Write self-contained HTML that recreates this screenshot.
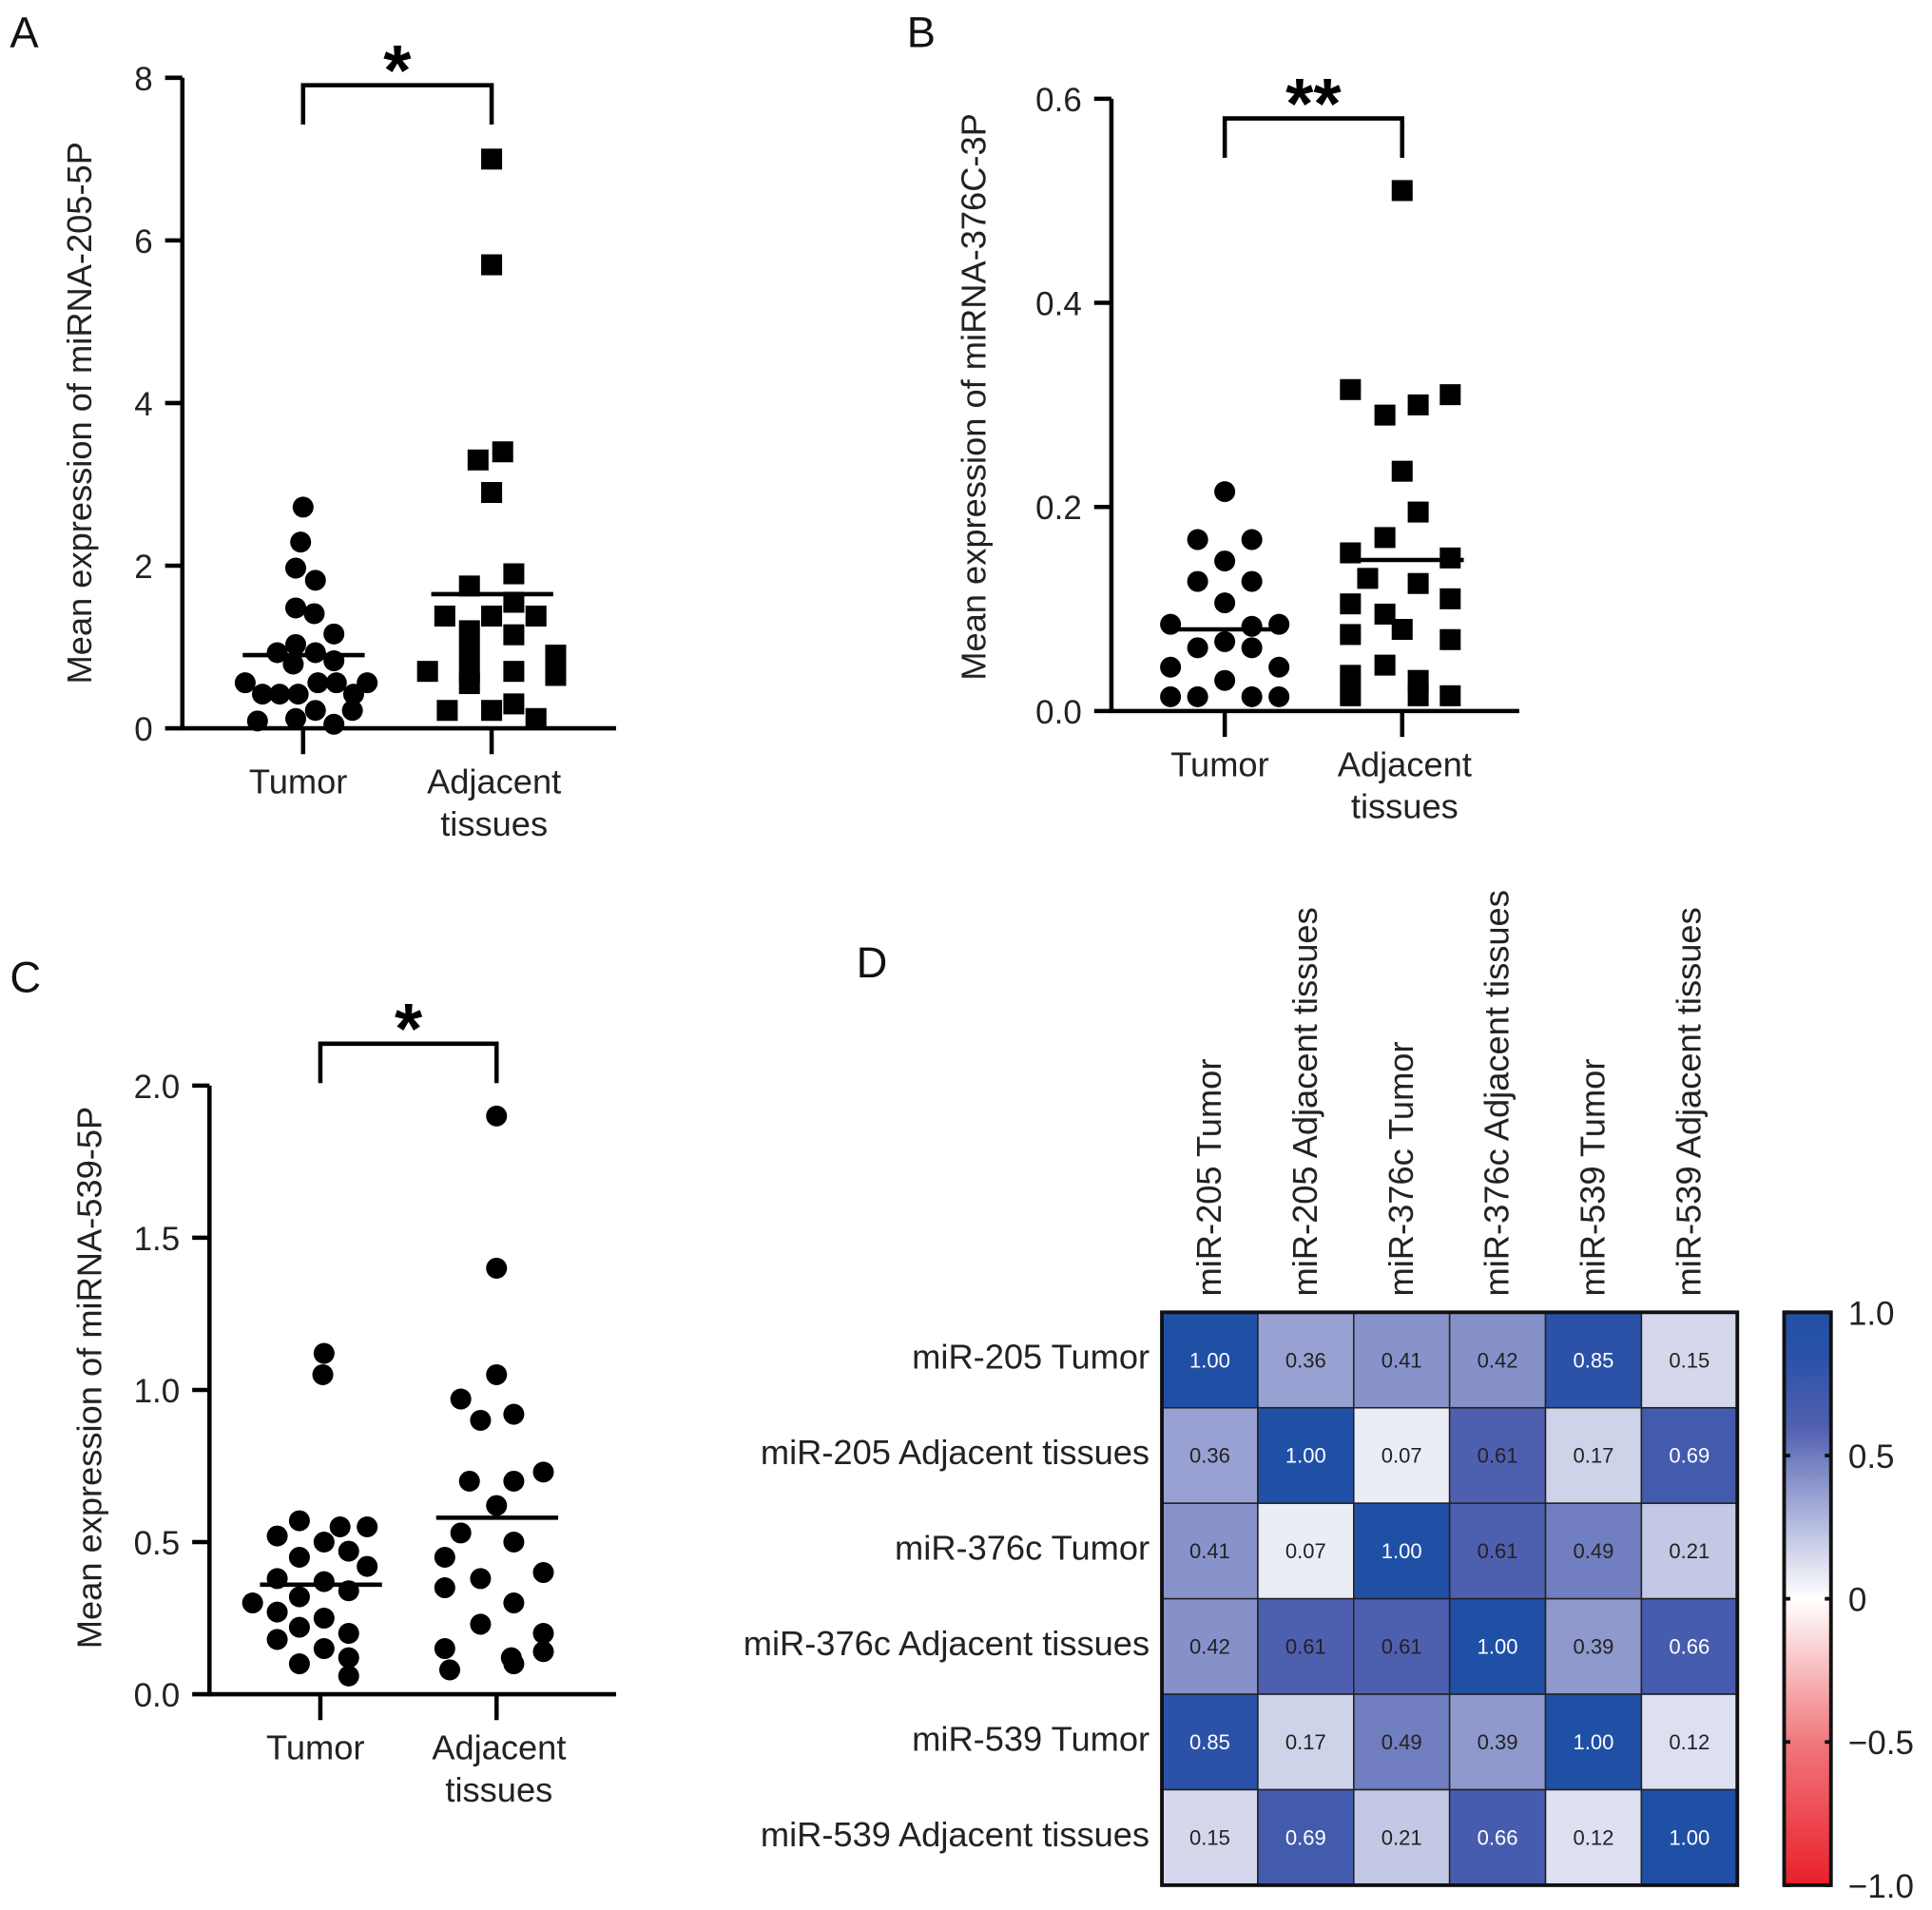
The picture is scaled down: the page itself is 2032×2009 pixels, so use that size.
<!DOCTYPE html>
<html><head><meta charset="utf-8"><style>
html,body{margin:0;padding:0;background:#fff}
svg{display:block;font-family:"Liberation Sans",Arial,sans-serif}
</style></head><body>
<svg id="fig" width="2032" height="2009" viewBox="0 0 1568 1550" xmlns="http://www.w3.org/2000/svg"></svg>
<script>
// ---------- Panel A data ----------
const aTumor=[2.72,2.29,1.97,1.82,1.48,1.41,1.16,0.93,1.03,0.79,0.93,0.83,0.56,0.42,0.42,0.42,0.56,0.56,0.42,0.56,0.09,0.12,0.22,0.05,0.22];
const aTumorJit=[0,-2,-6,10,-6,9,25,-21,-6,-8,10,25,-47,-33,-19,-4,12,27,41,52,-37,-6,10,25,40];
const aAdj=[7.0,5.7,3.4,3.3,2.9,1.9,1.75,1.55,1.38,1.38,1.38,1.2,1.15,0.95,0.7,0.7,0.7,0.9,0.65,0.55,0.3,0.22,0.22,0.12];
const aAdjJit=[0,0,9,-11,0,18,-18,18,-38,0,36,-18,18,-18,-52,-18,18,52,52,-18,18,-36,0,36];
const aMeans=[0.9,1.65];
const aTicks=[0,2,4,6,8];
// ---------- Panel B data ----------
const bTumor=[0.215,0.168,0.168,0.147,0.127,0.127,0.106,0.085,0.085,0.083,0.068,0.062,0.062,0.043,0.043,0.03,0.014,0.014,0.014,0.014];
const bTumorJit=[0,-22,22,0,-22,22,0,-44,44,22,0,-22,22,-44,44,0,-44,-22,22,44];
const bAdj=[0.51,0.315,0.31,0.30,0.29,0.235,0.195,0.17,0.155,0.15,0.13,0.125,0.11,0.105,0.095,0.08,0.075,0.07,0.045,0.035,0.03,0.015,0.015,0.015];
const bAdjJit=[0,-42,39,13,-14,0,13,-14,-42,39,-28,13,39,-42,-14,0,-42,39,-14,-42,13,-42,13,39];
const bMeans=[0.08,0.148];
const bTicks=[0,0.2,0.4,0.6];
// ---------- Panel C data ----------
const cTumor=[1.12,1.05,0.57,0.55,0.55,0.52,0.5,0.47,0.45,0.42,0.38,0.37,0.34,0.32,0.3,0.27,0.25,0.22,0.2,0.18,0.15,0.12,0.1,0.06];
const cTumorJit=[3,2,-17,16,38,-35,3,23,-17,38,-35,3,23,-17,-55,-35,3,-17,23,-35,3,23,-17,23];
const cAdj=[1.9,1.4,1.05,0.97,0.92,0.9,0.73,0.7,0.7,0.62,0.53,0.5,0.45,0.4,0.38,0.35,0.3,0.23,0.2,0.15,0.14,0.12,0.1,0.08];
const cAdjJit=[0,0,0,-29,14,-13,38,-22,14,0,-29,14,-42,38,-13,-42,14,-13,38,-42,38,12,14,-38];
const cMeans=[0.36,0.58];
const cTicks=[0,0.5,1.0,1.5,2.0];
// ---------- Panel D data ----------
const dLabels=["miR-205 Tumor","miR-205 Adjacent tissues","miR-376c Tumor","miR-376c Adjacent tissues","miR-539 Tumor","miR-539 Adjacent tissues"];
const dRow0=[1.00,0.36,0.41,0.42,0.85,0.15];
const dRow1=[0.36,1.00,0.07,0.61,0.17,0.69];
const dRow2=[0.41,0.07,1.00,0.61,0.49,0.21];
const dRow3=[0.42,0.61,0.61,1.00,0.39,0.66];
const dRow4=[0.85,0.17,0.49,0.39,1.00,0.12];
const dRow5=[0.15,0.69,0.21,0.66,0.12,1.00];
const cbTicks=[1.0,0.5,0,-0.5,-1.0];
const cbTickLabels=["1.0","0.5","0","\u22120.5","\u22121.0"];

const svg=document.getElementById('fig');
const NS="http://www.w3.org/2000/svg";
function mk(tag,attrs,parent){const e=document.createElementNS(NS,tag);for(const k in attrs)e.setAttribute(k,attrs[k]);(parent||svg).appendChild(e);return e;}
function txt(s,attrs,parent){const e=mk('text',attrs,parent);e.textContent=s;return e;}

function scatterPanel(cfg){
  const g=mk('g',{});
  
  
  const y=v=>cfg.y0+(v-cfg.vmin)/(cfg.vmax-cfg.vmin)*(cfg.y1-cfg.y0);
  const L=txt(cfg.letter,{x:cfg.lx,y:cfg.ly,'font-size':35,fill:'#111'},g);
  
  
  const ya=mk('line',{x1:cfg.ax,y1:y(cfg.vmax),x2:cfg.ax,y2:cfg.y0+1.5,stroke:'#000','stroke-width':3.5},g);
  
  
  const xa=mk('line',{x1:cfg.ax-1.5,y1:cfg.y0,x2:cfg.axEnd,y2:cfg.y0,stroke:'#000','stroke-width':3.5},g);
  
  
  cfg.ticks.forEach(t=>{
    mk('line',{x1:cfg.ax-14,y1:y(t),x2:cfg.ax,y2:y(t),stroke:'#000','stroke-width':3.5},g);
    const tl=txt(cfg.fmt(t),{x:cfg.ax-24,y:y(t)+10,'font-size':27,'text-anchor':'end',fill:'#222'},g);
    
    
  });
  cfg.cx.forEach(cx=>mk('line',{x1:cx,y1:cfg.y0,x2:cx,y2:cfg.y0+21,stroke:'#000','stroke-width':3.5},g));
  const t1=txt('Tumor',{x:cfg.cx[0]-4,y:cfg.y0+53,'font-size':28,'text-anchor':'middle',fill:'#222'},g);
  
  
  const t2=txt('Adjacent',{x:cfg.cx[1]+2,y:cfg.y0+53,'font-size':28,'text-anchor':'middle',fill:'#222'},g);
  
  
  txt('tissues',{x:cfg.cx[1]+2,y:cfg.y0+87,'font-size':28,'text-anchor':'middle',fill:'#222'},g);
  const yt=txt(cfg.title,{x:0,y:0,'font-size':28,'text-anchor':'middle',fill:'#222',transform:`translate(${cfg.tx},${cfg.ty}) rotate(-90)`},g);
  
  
  const br=mk('path',{d:`M${cfg.cx[0]},${cfg.by+32} V${cfg.by} H${cfg.cx[1]} V${cfg.by+32}`,fill:'none',stroke:'#000','stroke-width':3.5},g);
  
  
  const st=txt(cfg.star,{x:(cfg.cx[0]+cfg.cx[1])/2,y:cfg.by+8,'font-size':58,'font-weight':'bold','text-anchor':'middle',fill:'#000'},g);
  
  
  const groups=[[cfg.d0,cfg.j0,cfg.s0],[cfg.d1,cfg.j1,cfg.s1]];
  groups.forEach((gr,gi)=>{
    gr[0].forEach((v,i)=>{
      const px=cfg.cx[gi]+gr[1][i], py=y(v);
      let el;
      if(gr[2]==='sq') el=mk('rect',{x:px-8.5,y:py-8.5,width:17,height:17,fill:'#000'},g);
      else el=mk('circle',{cx:px,cy:py,r:8.5,fill:'#000'},g);
      
      
    });
    const m=mk('line',{x1:cfg.cx[gi]-49,y1:y(cfg.means[gi]),x2:cfg.cx[gi]+50,y2:y(cfg.means[gi]),stroke:'#000','stroke-width':3.5},g);
    
    
  });
}

scatterPanel({name:'panel-a',letter:'A',lx:8,ly:38,ax:148,axEnd:500,y0:591,y1:63,vmin:0,vmax:8,ticks:aTicks,fmt:t=>String(t),
  cx:[246,399],title:'Mean expression of miRNA-205-5P',tx:74,ty:335,by:69,star:'*',
  d0:aTumor,j0:aTumorJit,s0:'c',d1:aAdj,j1:aAdjJit,s1:'sq',means:aMeans});
scatterPanel({name:'panel-b',letter:'B',lx:736,ly:38,ax:902,axEnd:1233,y0:577,y1:80,vmin:0,vmax:0.6,ticks:bTicks,fmt:t=>t.toFixed(1),
  cx:[994,1138],title:'Mean expression of miRNA-376C-3P',tx:800,ty:322,by:96,star:'**',
  d0:bTumor,j0:bTumorJit,s0:'c',d1:bAdj,j1:bAdjJit,s1:'sq',means:bMeans});
scatterPanel({name:'panel-c',letter:'C',lx:8,ly:805,ax:170,axEnd:500,y0:1375,y1:881,vmin:0,vmax:2,ticks:cTicks,fmt:t=>t.toFixed(1),
  cx:[260,403],title:'Mean expression of miRNA-539-5P',tx:82,ty:1118,by:847,star:'*',
  d0:cTumor,j0:cTumorJit,s0:'c',d1:cAdj,j1:cAdjJit,s1:'c',means:cMeans});

// ---------- Heatmap ----------
const stops=[[-1,[232,32,42]],[-0.5,[240,120,125]],[0,[255,255,255]],[0.15,[213,216,236]],[0.4,[140,150,204]],[0.6,[80,96,176]],[0.85,[43,81,168]],[1,[32,80,166]]];
function col(v){for(let i=0;i<stops.length-1;i++){const a=stops[i],b=stops[i+1];if(v>=a[0]&&v<=b[0]){const t=(v-a[0])/(b[0]-a[0]);const c=a[1].map((x,k)=>Math.round(x+(b[1][k]-x)*t));return `rgb(${c})`;}}return 'rgb(32,80,166)';}
const rows=[dRow0,dRow1,dRow2,dRow3,dRow4,dRow5];
const hx0=943,hx1=1410,hy0=1065,hy1=1530;
const cw=(hx1-hx0)/6,ch=(hy1-hy0)/6;
const hg=mk('g',{});


const DL=txt('D',{x:695,y:793,'font-size':35,fill:'#111'},hg);


rows.forEach((r,ri)=>{
  r.forEach((v,ci)=>{
    const c=mk('rect',{x:hx0+ci*cw,y:hy0+ri*ch,width:cw,height:ch,fill:col(v),stroke:'#222','stroke-width':1.2},hg);
    
    
    const t=txt(v.toFixed(2),{x:hx0+(ci+0.5)*cw,y:hy0+(ri+0.5)*ch+6,'font-size':17,'text-anchor':'middle',fill:v>=0.65?'#fff':'#222'},hg);
    
    
  });
  const rl=txt(dLabels[ri],{x:933,y:hy0+(ri+0.5)*ch+7,'font-size':28,'text-anchor':'end',fill:'#222'},hg);
  
  
});
dLabels.forEach((l,ci)=>{
  const t=txt(l,{x:0,y:0,'font-size':28,fill:'#222',transform:`translate(${hx0+(ci+0.5)*cw+9},1052) rotate(-90)`},hg);
  
  
});
const hb=mk('rect',{x:hx0,y:hy0,width:hx1-hx0,height:hy1-hy0,fill:'none',stroke:'#111','stroke-width':3},hg);


const defs=mk('defs',{});
const lg=mk('linearGradient',{id:'cbg',x1:0,y1:0,x2:0,y2:1},defs);
for(let k=0;k<=40;k++){const v=1-k/20;mk('stop',{offset:(k/40),'stop-color':col(v)},lg);}
const cbx0=1448,cbx1=1486;
const cy=v=>hy0+(1-v)/2*(hy1-hy0);
const cb=mk('rect',{x:cbx0,y:hy0,width:cbx1-cbx0,height:hy1-hy0,fill:'url(#cbg)',stroke:'#111','stroke-width':3},hg);


cbTicks.forEach((t,i)=>{
  mk('line',{x1:cbx0,y1:cy(t),x2:cbx0+5,y2:cy(t),stroke:'#111','stroke-width':3},hg);
  mk('line',{x1:cbx1-5,y1:cy(t),x2:cbx1,y2:cy(t),stroke:'#111','stroke-width':3},hg);
  const l=txt(cbTickLabels[i],{x:1500,y:cy(t)+10,'font-size':27,fill:'#222'},hg);
  
  
});
</script>
</body></html>
